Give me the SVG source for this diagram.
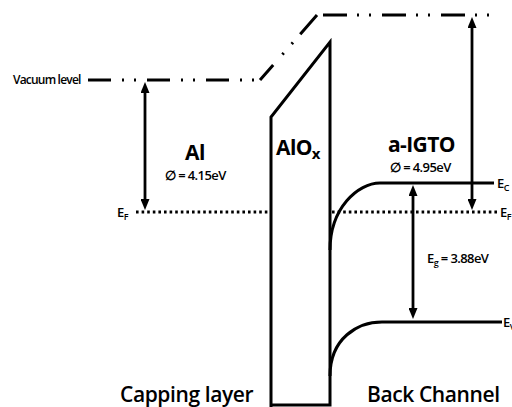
<svg xmlns="http://www.w3.org/2000/svg" width="512" height="407" viewBox="0 0 512 407">
<style>
  .ln { fill: none; stroke: #000; stroke-width: 3; }
  .vac { fill: none; stroke: #000; stroke-width: 3; stroke-dasharray: 23 11 2 10 2 11; }
  .ef { fill: none; stroke: #000; stroke-width: 3; stroke-dasharray: 2.6 3; }
  .arr { fill: none; stroke: #000; stroke-width: 2.8; marker-start: url(#ah); marker-end: url(#ah); }
  text { font-family: "Open Sans", "Liberation Sans", sans-serif; fill: #000; }
  .big { font-size: 21px; font-weight: 700; letter-spacing: -0.6px; }
  .bot { font-size: 21px; font-weight: 600; letter-spacing: -0.4px; }
  .sm { font-size: 13px; font-weight: 600; letter-spacing: -0.6px; }
  .lv { font-size: 12px; font-weight: 600; letter-spacing: -0.8px; }
</style>
<defs>
  <marker id="ah" viewBox="0 0 11 9" refX="5" refY="4.5" markerWidth="11" markerHeight="9" markerUnits="userSpaceOnUse" orient="auto-start-reverse">
    <path d="M0,0 L11,4.5 L0,9 Z" fill="#000"/>
  </marker>
</defs>
<g id="connectors">
  <line class="vac" x1="88" y1="80" x2="256" y2="80"/>
  <line class="vac" x1="260" y1="80" x2="317" y2="15" style="stroke-dasharray: 20 14 2 12 2 11 30;"/>
  <line class="vac" x1="323" y1="15" x2="492" y2="15" style="stroke-dasharray: 24 10 2 10 2 11;"/>
  <line class="ef" x1="136" y1="212" x2="270" y2="212"/>
  <line class="ef" x1="332" y1="212" x2="498" y2="212"/>
  <line class="arr" x1="145" y1="88" x2="145" y2="204"/>
  <line class="arr" x1="472" y1="23" x2="472" y2="204"/>
  <line class="arr" x1="413" y1="191" x2="413" y2="313"/>
</g>
<g id="aloxNode">
  <path class="ln" d="M271,407 L271,117 L330,42 L330,405 L271,405"/>
  <text class="big" x="276" y="155">AlO<tspan font-size="15" dy="4">x</tspan></text>
</g>
<g id="alNode">
  <text class="lv" x="13" y="84">Vacuum level</text>
  <text class="big" x="185" y="160">Al</text>
  <text class="sm" x="165" y="180">∅ = 4.15eV</text>
  <text class="sm" x="117" y="217">E<tspan font-size="9" dy="3">F</tspan></text>
  <text class="bot" x="120" y="402">Capping layer</text>
</g>
<g id="igtoNode">
  <path class="ln" d="M330,250 C330,208 358,183 380,183 L494,183"/>
  <path class="ln" d="M330,376 C330,338 358,322 382,322 L502,322"/>
  <text class="big" x="388" y="152">a-IGTO</text>
  <text class="sm" x="390" y="172">∅ = 4.95eV</text>
  <text class="sm" x="497" y="188">E<tspan font-size="9" dy="3">C</tspan></text>
  <text class="sm" x="500" y="217">E<tspan font-size="9" dy="3">F</tspan></text>
  <text class="sm" x="503" y="327">E<tspan font-size="9" dy="3">V</tspan></text>
  <text class="sm" x="427" y="263">E<tspan font-size="9" dy="3">g</tspan><tspan dy="-3"> = 3.88eV</tspan></text>
  <text class="bot" x="367" y="402">Back Channel</text>
</g>
</svg>
